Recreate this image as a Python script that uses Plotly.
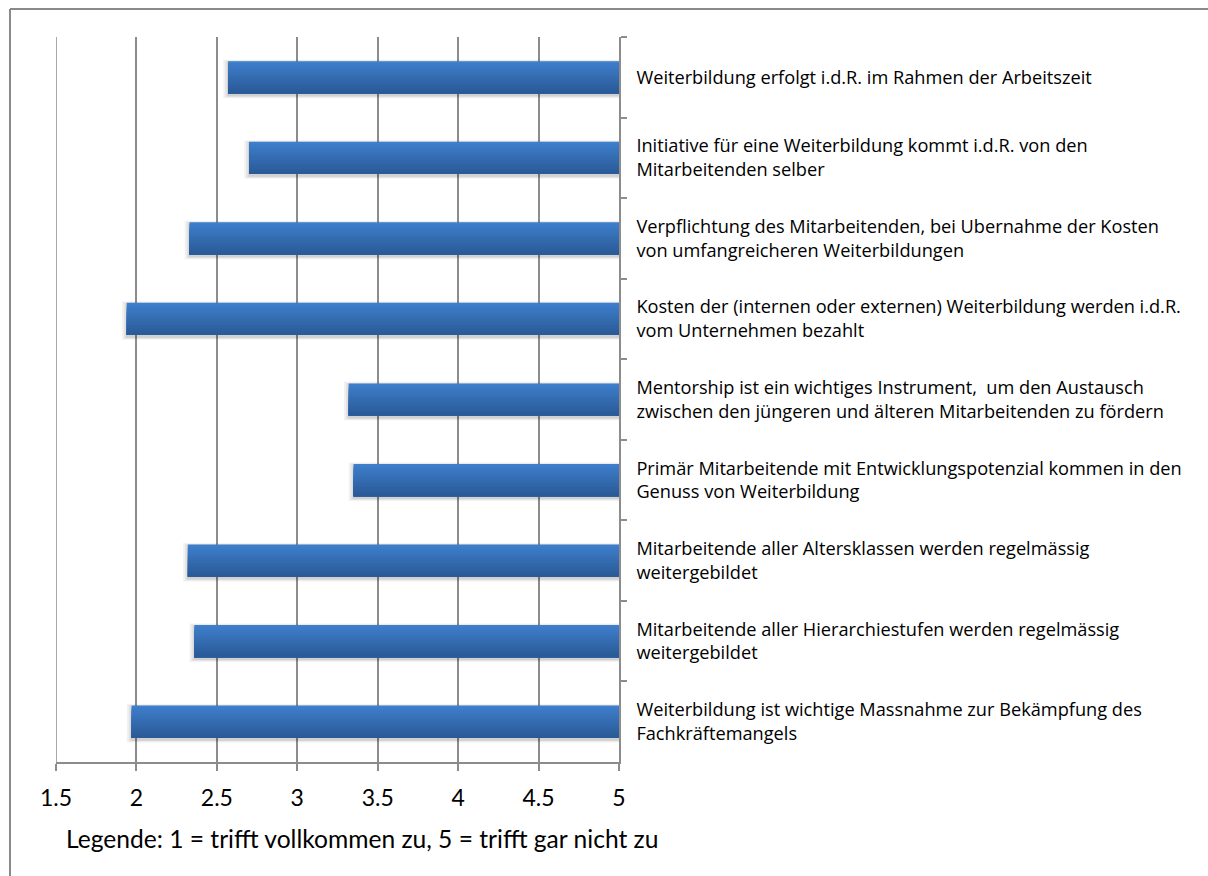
import plotly.graph_objects as go

# Survey statements (top to bottom) and their mean ratings (1 = agree fully, 5 = not at all)
statements = [
    "Weiterbildung erfolgt i.d.R. im Rahmen der Arbeitszeit",
    "Initiative für eine Weiterbildung kommt i.d.R. von den<br>Mitarbeitenden selber",
    "Verpflichtung des Mitarbeitenden, bei Ubernahme der Kosten<br>von umfangreicheren Weiterbildungen",
    "Kosten der (internen oder externen) Weiterbildung werden i.d.R.<br>vom Unternehmen bezahlt",
    "Mentorship ist ein wichtiges Instrument,  um den Austausch<br>zwischen den jüngeren und älteren Mitarbeitenden zu fördern",
    "Primär Mitarbeitende mit Entwicklungspotenzial kommen in den<br>Genuss von Weiterbildung",
    "Mitarbeitende aller Altersklassen werden regelmässig<br>weitergebildet",
    "Mitarbeitende aller Hierarchiestufen werden regelmässig<br>weitergebildet",
    "Weiterbildung ist wichtige Massnahme zur Bekämpfung des<br>Fachkräftemangels",
]
ratings = [2.57, 2.70, 2.33, 1.94, 3.32, 3.35, 2.32, 2.36, 1.97]

x_ticks = [1.5, 2, 2.5, 3, 3.5, 4, 4.5, 5]
x_tick_text = ["1.5", "2", "2.5", "3", "3.5", "4", "4.5", "5"]
axis_min, axis_max = 1.5, 5
legend_text = "Legende: 1 = trifft vollkommen zu, 5 = trifft gar nicht zu"

W, H = 1208, 876
ML, MR, MT, MB = 56, 589, 37, 114
PW = W - ML - MR
PH = H - MT - MB
GRID = "#8c8c8c"

def px_x(px):
    return (px - ML) / PW

def px_y(py):
    return (H - MB - py) / PH

BAR_W = 0.4
fig = go.Figure()

# soft drop shadow under each bar
for k, alpha in enumerate([0.05, 0.06, 0.08]):
    grow = (2 - k) * 0.012
    fig.add_trace(go.Bar(
        y=statements,
        x=[v - axis_max - 0.006 - grow for v in ratings],
        base=axis_max,
        orientation="h",
        width=BAR_W + 0.03 + grow * 2,
        offset=-(BAR_W / 2) + 0.005 - grow,
        marker=dict(color=f"rgba(0,0,0,{alpha})", line=dict(width=0)),
        hoverinfo="skip",
        showlegend=False,
    ))

# vertical gradient: each layer starts a little lower and runs to the bar's bottom edge
top = (62, 126, 203)
bottom = (42, 90, 151)
N = 14
step = BAR_W / N
for i in range(N):
    t = i / (N - 1)
    c = tuple(round(top[j] + (bottom[j] - top[j]) * t) for j in range(3))
    fig.add_trace(go.Bar(
        y=statements,
        x=[v - axis_max for v in ratings],
        base=axis_max,
        orientation="h",
        width=BAR_W - i * step,
        offset=-BAR_W / 2 + i * step,
        marker=dict(color=f"rgb{c}", line=dict(width=0)),
        hovertemplate="%{base:.2f}<extra></extra>" if i == 0 else None,
        hoverinfo="skip" if i else None,
        showlegend=False,
    ))

# gridline on the left edge of the value range
fig.add_shape(type="line", xref="x", yref="paper",
              x0=axis_min, x1=axis_min, y0=0, y1=1,
              line=dict(color=GRID, width=1.5), layer="below")

# chart area frame (runs off the right and bottom edges)
fig.add_shape(type="line", xref="paper", yref="paper",
              x0=px_x(10), x1=px_x(W + 20), y0=px_y(9), y1=px_y(9),
              line=dict(color="#8a8a8a", width=2))
fig.add_shape(type="line", xref="paper", yref="paper",
              x0=px_x(10), x1=px_x(10), y0=px_y(9), y1=px_y(H + 20),
              line=dict(color="#8a8a8a", width=2))

fig.add_annotation(
    text=legend_text, xref="paper", yref="paper",
    x=px_x(64), y=px_y(838), xanchor="left", yanchor="middle",
    showarrow=False, font=dict(family="Lato", size=24.6, color="#000000"),
)

fig.update_layout(
    width=W, height=H,
    margin=dict(l=ML, r=MR, t=MT, b=MB),
    paper_bgcolor="white", plot_bgcolor="white",
    barmode="overlay",
    font=dict(family="Lato", color="#000000"),
    xaxis=dict(
        range=[axis_min, axis_max],
        tickvals=x_ticks, ticktext=x_tick_text,
        showgrid=True, gridcolor=GRID, gridwidth=1.5,
        showline=True, linecolor=GRID, linewidth=1.5,
        ticks="outside", ticklen=7, tickcolor=GRID, tickwidth=1.5,
        tickfont=dict(family="Lato", size=23, color="#000000"),
        ticklabelstandoff=8,
        zeroline=False, fixedrange=True,
    ),
    yaxis=dict(
        type="category", autorange="reversed",
        side="right",
        showgrid=False,
        showline=True, linecolor=GRID, linewidth=1.5,
        ticks="outside", ticklen=6, tickcolor=GRID, tickwidth=1.5,
        tickson="boundaries",
        tickfont=dict(family="Open Sans", size=18.2, color="#000000"),
        ticklabelstandoff=12,
        fixedrange=True,
    ),
)

fig.write_html("out.html")
